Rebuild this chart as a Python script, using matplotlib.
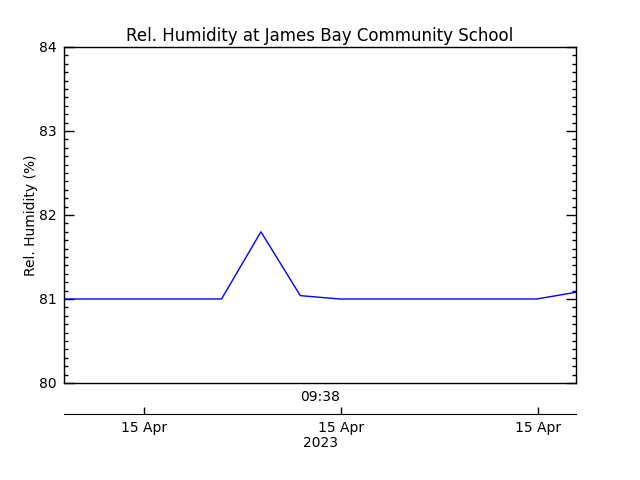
import matplotlib
matplotlib.use("Agg")
import matplotlib.pyplot as plt
from matplotlib.ticker import MultipleLocator, FixedLocator

plt.rcParams['font.family'] = ['DejaVu Sans']
plt.rcParams['ytick.direction'] = 'in'
plt.rcParams['xtick.direction'] = 'in'

# sample index (equally spaced readings)
x_index = list(range(14))
humidity = [81.0, 81.0, 81.0, 81.0, 81.0, 81.8, 81.04, 81.0, 81.0, 81.0, 81.0, 81.0, 81.0, 81.08]
time_tick_pos = [2.03, 7.03, 12.03]
time_tick_labels = ["15 Apr", "15 Apr", "15 Apr"]
center_time = "09:38"
year_label = "2023"

fig = plt.figure(figsize=(6.4, 4.8), dpi=100)
ax = fig.add_axes([0.1, 0.2021, 0.8, 0.7])
ax.plot(x_index, humidity, color=(0, 0, 1), linewidth=1)
ax.set_xlim(0, 13)
ax.set_ylim(80, 84)
ax.yaxis.set_major_locator(MultipleLocator(1))
ax.yaxis.set_minor_locator(MultipleLocator(0.1))
ax.tick_params(axis='y', which='major', direction='in', length=7, width=1,
               left=True, right=True, labelsize=10, pad=5)
ax.tick_params(axis='y', which='minor', direction='in', length=3, width=1,
               left=True, right=True)
ax.set_xticks([])
ax.set_title("Rel. Humidity at James Bay Community School", fontsize=12, pad=4)
ax.set_ylabel("Rel. Humidity (%)", fontsize=10, labelpad=1)
for s in ax.spines.values():
    s.set_linewidth(1)

ax2 = fig.add_axes([0.1, (480 - 414) / 480, 0.8, 0.001])
ax2.set_xlim(0, 13)
for k in ['top', 'left', 'right']:
    ax2.spines[k].set_visible(False)
ax2.patch.set_visible(False)
ax2.set_yticks([])
ax2.xaxis.set_major_locator(FixedLocator(time_tick_pos))
ax2.set_xticklabels(time_tick_labels)
ax2.tick_params(axis='x', direction='in', length=5, width=1, labelsize=10, pad=5)

fig.text(0.5, (480 - 397) / 480, center_time, ha='center', va='center', fontsize=10)
fig.text(0.5, (480 - 443) / 480, year_label, ha='center', va='center', fontsize=10)

fig.savefig("out.png", dpi=100)
